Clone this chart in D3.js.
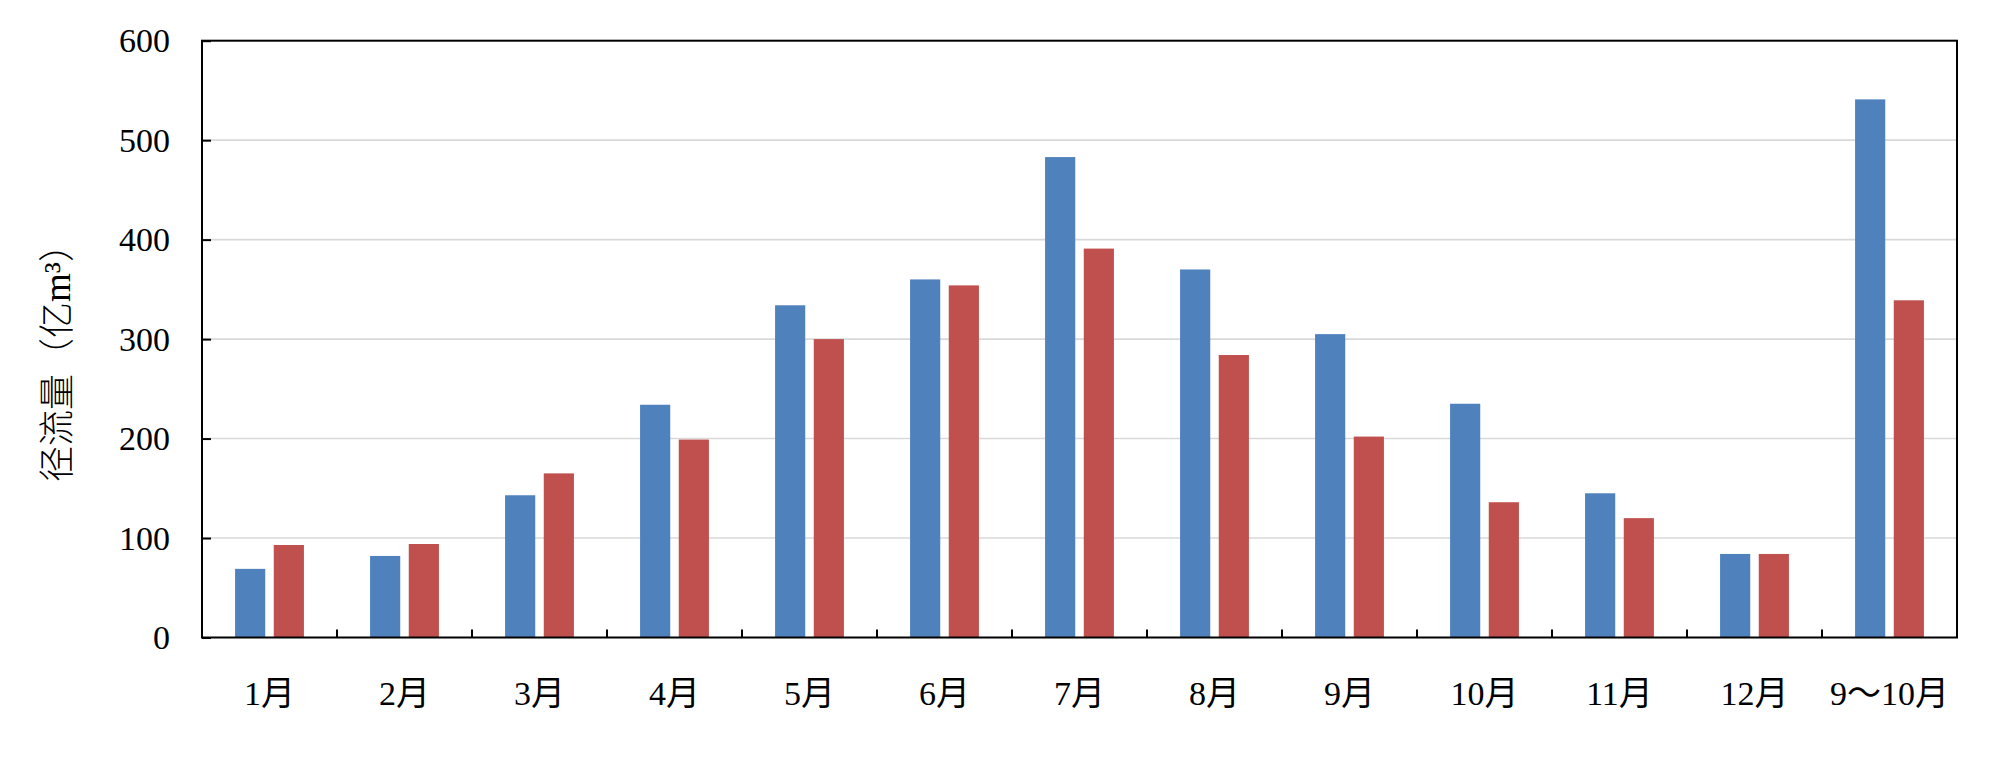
<!DOCTYPE html>
<html>

<head>
  <meta charset="UTF-8">
  <style>
    body { margin: 0; background: #fff; }
    svg { display: block; }
    .tick-label { font-family: "Liberation Serif", "Noto Sans CJK SC", serif; font-size: 34px; fill: #000; }
  </style>
</head>

<body>
  <svg></svg>
  <script src="https://d3js.org/d3.v7.min.js"></script>

  <script>
    // data
    let categories = ["1月", "2月", "3月", "4月", "5月", "6月", "7月", "8月", "9月", "10月", "11月", "12月", "9～10月"];
    let series1 = [69, 82, 143, 234, 334, 360, 483, 370, 305, 235, 145, 84, 541];
    let series2 = [93, 94, 165, 199, 300, 354, 391, 284, 202, 136, 120, 84, 339];
    let yTicks = [0, 100, 200, 300, 400, 500, 600];
    let seriesNames = ["series1", "series2"];
    let colors = ["#4F81BD", "#C0504D"];

    let width = 2000, height = 760;
    let plotLeft = 202, plotRight = 1957, plotTop = 40.7, plotBottom = 637.5;

    let svg = d3.select("svg")
      .attr("width", width)
      .attr("height", height);

    let x0 = d3.scaleBand()
      .domain(categories)
      .range([plotLeft, plotRight])
      .padding(0);

    let groupW = x0.bandwidth() * 0.51;
    let x1 = d3.scaleBand()
      .domain(seriesNames)
      .range([0, groupW])
      .paddingInner(0.22);

    let y = d3.scaleLinear()
      .domain([0, 600])
      .range([plotBottom, plotTop]);

    // gridlines
    svg.append("g")
      .selectAll("line")
      .data(yTicks.filter(d => d > 0 && d < 600))
      .enter()
      .append("line")
      .attr("x1", plotLeft)
      .attr("x2", plotRight)
      .attr("y1", d => y(d))
      .attr("y2", d => y(d))
      .attr("stroke", "#d9d9d9")
      .attr("stroke-width", 1.6);

    // bars
    let rows = categories.map((c, i) => ({ cat: c, vals: [series1[i], series2[i]] }));

    svg.append("g")
      .selectAll("g")
      .data(rows)
      .enter()
      .append("g")
      .attr("transform", d => "translate(" + (x0(d.cat) + (x0.bandwidth() - groupW) / 2) + ",0)")
      .selectAll("rect")
      .data(d => d.vals.map((v, j) => ({ key: seriesNames[j], v: v, c: colors[j] })))
      .enter()
      .append("rect")
      .attr("x", d => x1(d.key))
      .attr("width", x1.bandwidth())
      .attr("y", d => y(d.v))
      .attr("height", d => y(0) - y(d.v))
      .attr("fill", d => d.c);

    // y axis (ticks inside), labels drawn separately
    svg.append("g")
      .attr("transform", "translate(" + plotLeft + ",0)")
      .call(d3.axisRight(y).tickValues(yTicks).tickSize(9).tickFormat(""))
      .call(g => g.select(".domain").remove())
      .selectAll("line")
      .attr("stroke", "#000")
      .attr("stroke-width", 2);

    svg.append("g")
      .selectAll("text")
      .data(yTicks)
      .enter()
      .append("text")
      .attr("class", "tick-label")
      .attr("x", 170)
      .attr("y", d => y(d))
      .attr("dy", "0.34em")
      .attr("text-anchor", "end")
      .text(d => d);

    // x axis ticks at category boundaries, pointing up
    let bounds = categories.slice(1).map(c => x0(c));
    svg.append("g")
      .selectAll("line")
      .data(bounds)
      .enter()
      .append("line")
      .attr("x1", d => d)
      .attr("x2", d => d)
      .attr("y1", plotBottom)
      .attr("y2", plotBottom - 8)
      .attr("stroke", "#000")
      .attr("stroke-width", 2);

    svg.append("g")
      .selectAll("text")
      .data(categories)
      .enter()
      .append("text")
      .attr("class", "tick-label")
      .attr("x", d => x0(d) + x0.bandwidth() / 2)
      .attr("y", 705)
      .attr("text-anchor", "middle")
      .text(d => d);

    // plot frame
    svg.append("rect")
      .attr("x", plotLeft)
      .attr("y", plotTop)
      .attr("width", plotRight - plotLeft)
      .attr("height", plotBottom - plotTop)
      .attr("fill", "none")
      .attr("stroke", "#000")
      .attr("stroke-width", 2);

    // y axis title
    let title = svg.append("text")
      .attr("transform", "translate(70,354) rotate(-90)")
      .attr("text-anchor", "middle")
      .style("font-size", "36px")
      .style("fill", "#000");
    title.append("tspan")
      .style("font-family", "'Noto Sans CJK SC', sans-serif")
      .style("font-weight", 300)
      .text("径流量（亿");
    title.append("tspan")
      .style("font-family", "'Liberation Serif', serif")
      .style("font-size", "37px")
      .text("m³");
    title.append("tspan")
      .style("font-family", "'Noto Sans CJK SC', sans-serif")
      .style("font-weight", 300)
      .text("）");
  </script>

</body>

</html>
